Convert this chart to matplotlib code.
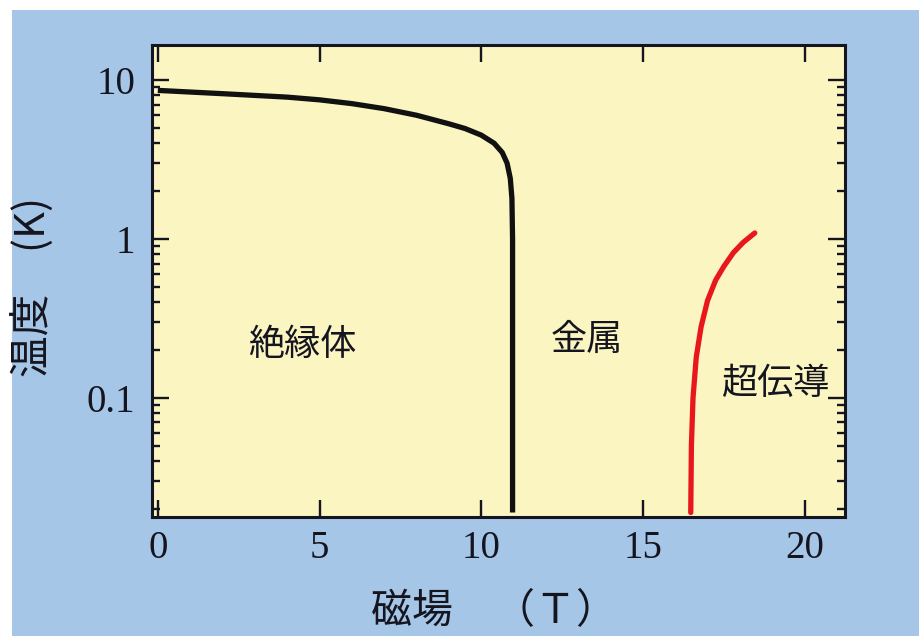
"""Phase diagram: temperature vs magnetic field (insulator / metal / superconductor)."""
import numpy as np
import matplotlib
matplotlib.use("Agg")
import matplotlib.pyplot as plt  # noqa: E402
from matplotlib.patches import Rectangle  # noqa: E402
from matplotlib.ticker import FixedLocator, LogLocator, NullFormatter  # noqa: E402

# insulator–metal boundary (black)
field_im = [0, 2, 4, 5, 6, 7, 8, 9, 9.5, 10, 10.4, 10.65, 10.8, 10.9, 10.95, 10.97, 10.97]
temp_im = [8.6, 8.2, 7.8, 7.5, 7.1, 6.6, 6.0, 5.3, 4.95, 4.5, 4.0, 3.5, 3.0, 2.4, 1.8, 1.0, 0.019]

# superconducting boundary (red)
field_sc = [16.48, 16.5, 16.55, 16.65, 16.8, 17.0, 17.25, 17.5, 17.8, 18.1, 18.46]
temp_sc = [0.019, 0.05, 0.1, 0.18, 0.28, 0.41, 0.55, 0.67, 0.82, 0.95, 1.09]

x_ticks = [0, 5, 10, 15, 20]
y_ticks = [0.1, 1, 10]
y_ticklabels = ["0.1", "1", "10"]

region_names = ["絶縁体", "金属", "超伝導"]
region_x = [4.48, 13.25, 19.1]
region_y = [0.215, 0.232, 0.122]

JP = ["Noto Sans CJK JP", "DejaVu Sans"]
NUM = ["Liberation Serif", "DejaVu Serif"]
INK = "#15151f"
BLUE = "#a6c6e8"
YELLOW = "#fbf5c2"

fig = plt.figure(figsize=(9.2, 6.36), dpi=100)
fig.patch.set_facecolor("white")
fig.patches.append(Rectangle((12 / 920, 0), 1 - 12 / 920, 1 - 10 / 636,
                             transform=fig.transFigure, facecolor=BLUE,
                             edgecolor="none", zorder=-10))

ax = fig.add_axes([152 / 920, 1 - 517 / 636, 693 / 920, 472 / 636])
ax.set_facecolor(YELLOW)

ax.plot(field_im, temp_im, color="#111111", lw=3.8, solid_capstyle="butt")
ax.plot(field_sc, temp_sc, color="#e8171c", lw=3.8, solid_capstyle="round")

ax.set_yscale("log")
ax.set_xlim(-0.18, 21.25)
ax.set_ylim(0.0178, 16.6)

ax.xaxis.set_major_locator(FixedLocator(x_ticks))
ax.set_xticklabels([str(v) for v in x_ticks])
ax.yaxis.set_major_locator(FixedLocator(y_ticks))
ax.set_yticklabels(y_ticklabels)
ax.yaxis.set_minor_locator(LogLocator(base=10, subs=np.arange(2, 10)))
ax.yaxis.set_minor_formatter(NullFormatter())

ax.tick_params(which="both", direction="in", top=True, right=True, colors=INK)
ax.tick_params(which="major", length=12, width=1.7)
ax.tick_params(which="minor", length=6, width=1.7)
ax.tick_params(axis="x", pad=9)
ax.tick_params(axis="y", pad=12)
for lab in ax.get_xticklabels() + ax.get_yticklabels():
    lab.set_family(NUM)
    lab.set_fontsize(28)
    lab.set_color(INK)
for sp in ax.spines.values():
    sp.set_linewidth(2.2)
    sp.set_color(INK)

for name, x, y in zip(region_names, region_x, region_y):
    ax.text(x, y, name, family=JP, fontsize=26, color=INK, ha="center", va="center")

fig.text(371 / 920, 1 - 612 / 636, "磁場　（Ｔ）", family=JP, fontsize=29.5,
         color=INK, ha="left", va="center")
fig.text(33 / 920, 1 - 377 / 636, "温度　(K)", family=JP, fontsize=30,
         color=INK, ha="left", va="center", rotation=90, rotation_mode="anchor")

fig.savefig("out.png", dpi=100)
